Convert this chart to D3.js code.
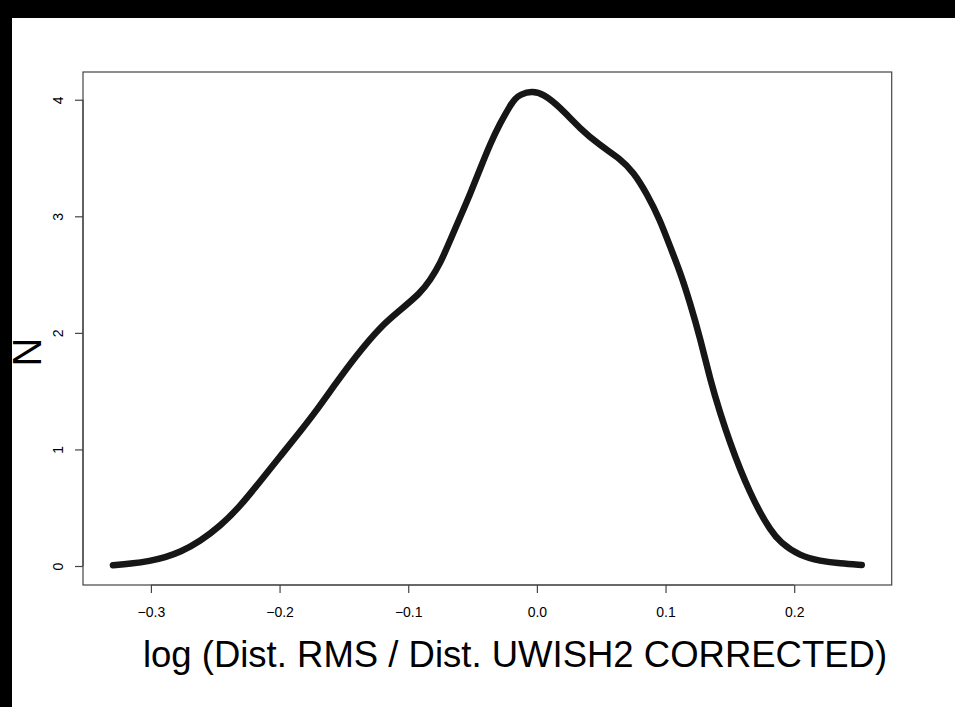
<!DOCTYPE html>
<html>
<head>
<meta charset="utf-8">
<script src="https://cdn.jsdelivr.net/npm/d3@7"></script>
<style>
  html, body { margin: 0; padding: 0; background: #fff; overflow: hidden; }
  svg { display: block; }
  text { font-family: "Liberation Sans", Arial, Helvetica, sans-serif; }
</style>
</head>
<body>
<svg id="chart" width="955" height="707"></svg>
<script>
// Density curve
const xValues = [-0.3295, -0.316, -0.3005, -0.289, -0.2774, -0.2616, -0.2461, -0.2306, -0.2150, -0.1995,
  -0.1839, -0.1709, -0.1566, -0.1411, -0.1217, -0.1062, -0.0907, -0.0829, -0.0751, -0.0674,
  -0.0596, -0.0518, -0.0441, -0.0363, -0.0285, -0.0208, -0.0169, -0.0130, -0.0039, 0.0051, 0.0181,
  0.0336, 0.0492, 0.0647, 0.0751, 0.0855, 0.0958, 0.1036, 0.1114, 0.1191, 0.1269,
  0.1347, 0.1424, 0.1502, 0.1580, 0.1658, 0.1735, 0.1813, 0.1891, 0.2046, 0.2202,
  0.2357, 0.2525];
const yValues = [0.006, 0.019, 0.043, 0.074, 0.117, 0.214, 0.342, 0.513, 0.727, 0.941,
  1.155, 1.340, 1.563, 1.796, 2.053, 2.196, 2.339, 2.453, 2.595, 2.795,
  2.994, 3.194, 3.408, 3.622, 3.800, 3.950, 4.010, 4.045, 4.075, 4.050, 3.935,
  3.750, 3.607, 3.494, 3.379, 3.194, 2.967, 2.737, 2.521, 2.256, 1.956,
  1.598, 1.312, 1.056, 0.827, 0.628, 0.457, 0.314, 0.200, 0.086, 0.043,
  0.021, 0.009];
const xTicks = [-0.3, -0.2, -0.1, 0.0, 0.1, 0.2];
const xTickLabels = ["\u22120.3", "\u22120.2", "\u22120.1", "0.0", "0.1", "0.2"];
const yTicks = [0, 1, 2, 3, 4];
const yTickLabels = ["0", "1", "2", "3", "4"];
const xLabel = "log (Dist. RMS / Dist. UWISH2 CORRECTED)";
const yLabel = "N";

const svg = d3.select("#chart");
const plot = { left: 83, right: 891.7, top: 72, bottom: 585 };

function padded(ext) {
  const d = (ext[1] - ext[0]) * 0.04;
  return [ext[0] - d, ext[1] + d];
}
const x = d3.scaleLinear().domain(padded(d3.extent(xValues))).range([plot.left, plot.right]);
const y = d3.scaleLinear().domain(padded([0, d3.max(yValues)])).range([plot.bottom, plot.top]);

const data = xValues.map((v, i) => ({ x: v, y: yValues[i] }));

// box
svg.append("rect")
  .attr("x", plot.left).attr("y", plot.top)
  .attr("width", plot.right - plot.left).attr("height", plot.bottom - plot.top)
  .attr("fill", "none").attr("stroke", "#444").attr("stroke-width", 1.2);

// x axis
const xAxis = d3.axisBottom(x).tickValues(xTicks).tickSize(8).tickPadding(14)
  .tickFormat((d, i) => xTickLabels[i]);
const gx = svg.append("g").attr("transform", `translate(0,${plot.bottom})`).call(xAxis);
gx.select(".domain").attr("stroke", "#444").attr("stroke-width", 1.2)
  .attr("d", `M${x(xTicks[0])},0H${x(xTicks[xTicks.length - 1])}`);
gx.selectAll(".tick line").attr("stroke", "#444").attr("stroke-width", 1.2);
gx.selectAll(".tick text").attr("font-size", 14).attr("fill", "#000")
  .attr("font-family", "Liberation Sans, Arial, sans-serif");

// y axis
const yAxis = d3.axisLeft(y).tickValues(yTicks).tickSize(8).tickPadding(0)
  .tickFormat((d, i) => yTickLabels[i]);
const gy = svg.append("g").attr("transform", `translate(${plot.left},0)`).call(yAxis);
gy.select(".domain").attr("stroke", "#444").attr("stroke-width", 1.2)
  .attr("d", `M0,${y(yTicks[0])}V${y(yTicks[yTicks.length - 1])}`);
gy.selectAll(".tick line").attr("stroke", "#444").attr("stroke-width", 1.2);
gy.selectAll(".tick text")
  .attr("font-size", 14).attr("fill", "#000")
  .attr("font-family", "Liberation Sans, Arial, sans-serif")
  .attr("x", null).attr("dy", null)
  .attr("text-anchor", "middle")
  .attr("transform", "translate(-20,0) rotate(-90)");

// density curve (thick band of overlapping circles)
const line = d3.line().x(d => x(d.x)).y(d => y(d.y)).curve(d3.curveBasis);
svg.append("path").datum(data)
  .attr("d", line)
  .attr("fill", "none")
  .attr("stroke", "#161616")
  .attr("stroke-width", 6.5)
  .attr("stroke-linecap", "round")
  .attr("stroke-linejoin", "round");

// axis titles
svg.append("text")
  .attr("x", 515).attr("y", 667)
  .attr("text-anchor", "middle")
  .attr("font-size", 36.5)
  .attr("fill", "#000")
  .text(xLabel);

svg.append("text")
  .attr("transform", "translate(41,352) rotate(-90)")
  .attr("text-anchor", "middle")
  .attr("font-size", 40)
  .attr("fill", "#000")
  .text(yLabel);

// black frame bands of the screenshot
svg.append("rect").attr("x", 0).attr("y", 0).attr("width", 955).attr("height", 18).attr("fill", "#000");
svg.append("rect").attr("x", 0).attr("y", 0).attr("width", 12).attr("height", 707).attr("fill", "#000");
</script>
</body>
</html>
